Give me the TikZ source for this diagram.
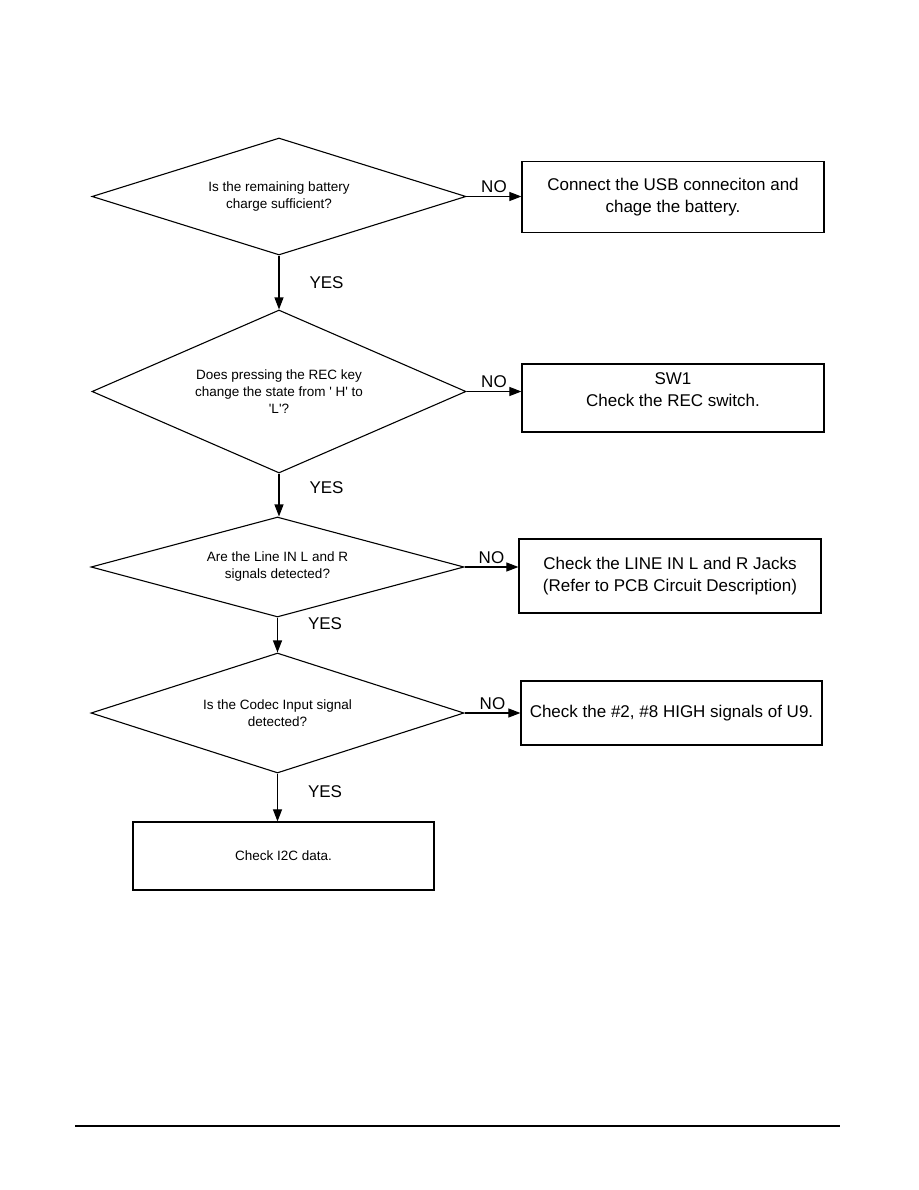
\documentclass[tikz,border=0pt]{standalone}
\usepackage{fontspec}
\setmainfont{Liberation Sans}
\usetikzlibrary{positioning, shapes.geometric, arrows.meta}
\tikzset{
  decision/.style={draw, diamond, aspect=3.2, inner sep=0pt, align=center,
                   line width=1.1pt, font=\fontsize{13.5}{17}\selectfont},
  block/.style={draw, rectangle, align=center, line width=1.2pt, inner sep=0pt,
                minimum width=302pt, font=\fontsize{17}{22}\selectfont},
  flow/.style={-{Triangle[length=12pt, width=9pt]}, line width=1.1pt},
  answer/.style={font=\fontsize{17}{20}\selectfont, inner sep=1pt},
}

\begin{document}
\begin{tikzpicture}[x=1pt, y=-1pt]
  \useasboundingbox (0,0) rectangle (918,1190);

  % --- decisions ---
  \node[decision, minimum width=374pt, minimum height=117pt] (q1) at (279,196.5)
       {Is the remaining battery\\charge sufficient?};
  \node[decision, minimum width=374pt, minimum height=163pt] (q2) at (279,391.5)
       {Does pressing the REC key\\change the state from \textquotesingle\ H\textquotesingle\ to\\\textquotesingle L\textquotesingle?};
  \node[decision, minimum width=373pt, minimum height=100pt] (q3) at (277.5,567)
       {Are the Line IN L and R\\signals detected?};
  \node[decision, minimum width=373pt, minimum height=120pt] (q4) at (277.5,713)
       {Is the Codec Input signal\\detected?};

  % --- actions ---
  \node[block, minimum height=71pt] (fix1) at (673,197)
       {Connect the USB conneciton and\\chage the battery.};
  \node[block, minimum height=68pt] (fix2) at (673,398)
       {SW1\\Check the REC switch.\rule[-17pt]{0pt}{1pt}};
  \node[block, minimum height=74pt] (fix3) at (670,576)
       {Check the LINE IN L and R Jacks\\(Refer to PCB Circuit Description)};
  \node[block, minimum height=64pt, minimum width=301pt] (fix4) at (671.5,713)
       {Check the \#2, \#8 HIGH signals of U9.};
  \node[block, minimum height=68pt, minimum width=301pt,
        font=\fontsize{13.5}{17}\selectfont] (fix5) at (283.5,856)
       {Check I2C data.};

  % --- YES path ---
  \draw[flow] (q1.south) -- node[answer, pos=0.5, anchor=west, xshift=29pt] {YES} (q1.south |- q2.north);
  \draw[flow] (q2.south) -- node[answer, pos=0.32, anchor=west, xshift=29pt] {YES} (q2.south |- q3.north);
  \draw[flow] (q3.south) -- node[answer, pos=0.17, anchor=west, xshift=29pt] {YES} (q3.south |- q4.north);
  \draw[flow] (q4.south) -- node[answer, pos=0.37, anchor=west, xshift=29pt] {YES} (q4.south |- fix5.north);

  % --- NO branches ---
  \draw[flow] (q1.east) -- node[answer, above=2pt] {NO} (q1.east -| fix1.west);
  \draw[flow] (q2.east) -- node[answer, above=2pt] {NO} (q2.east -| fix2.west);
  \draw[flow] (q3.east) -- node[answer, above=2pt] {NO} (q3.east -| fix3.west);
  \draw[flow] (q4.east) -- node[answer, above=2pt] {NO} (q4.east -| fix4.west);

  % footer rule
  \draw[line width=1.2pt] (75,1126) -- (840,1126);
\end{tikzpicture}
\end{document}
